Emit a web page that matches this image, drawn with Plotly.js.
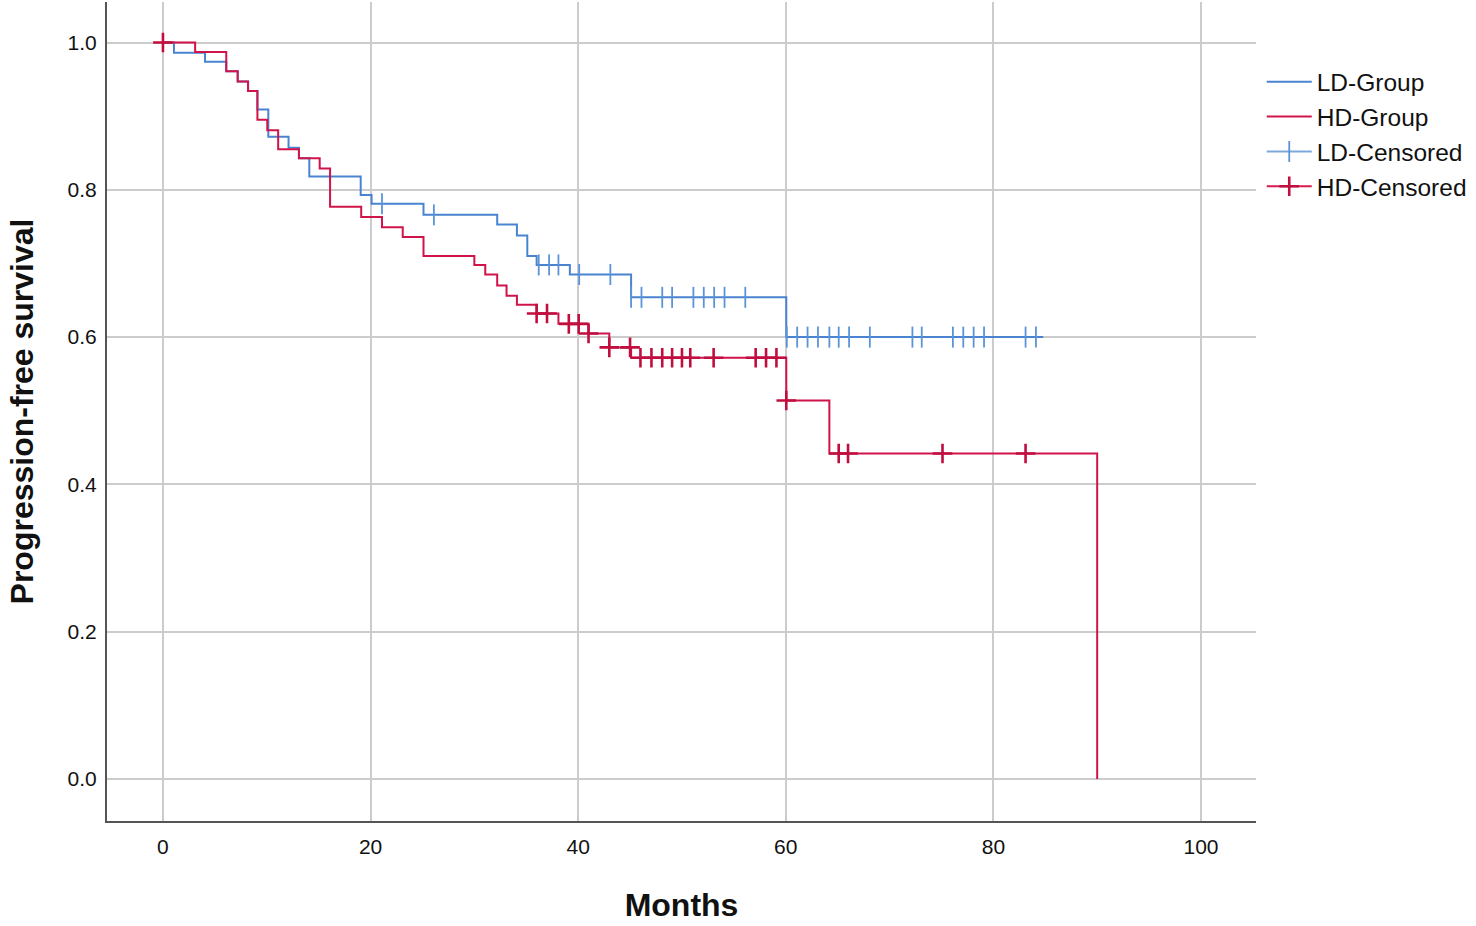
<!DOCTYPE html>
<html>
<head>
<meta charset="utf-8">
<script src="https://cdn.plot.ly/plotly-3.0.1.min.js"></script>
<style>
  html, body { margin: 0; padding: 0; background: #fff; }
  #km-chart { width: 1476px; height: 926px; }
</style>
</head>
<body>
<div id="km-chart"></div>
<script>
// step times (months) and survival after each step
const ldTimes = [0, 1.06, 4.05, 6.1, 7.2, 8.2, 9.1, 10.15, 12.1, 13.1, 14.1, 19.05, 20.1, 25.1, 32.2, 34.1, 35.1, 36.0, 39.2, 45.1, 60.05, 84.8];
const ldSurv  = [1.0, 0.986, 0.974, 0.961, 0.947, 0.934, 0.909, 0.872, 0.857, 0.843, 0.818, 0.793, 0.781, 0.766, 0.753, 0.738, 0.710, 0.698, 0.685, 0.654, 0.600, 0.600];

const hdTimes = [0, 3.1, 6.1, 7.2, 8.2, 9.1, 10.05, 11.1, 13.1, 15.1, 16.1, 19.1, 21.1, 23.1, 25.1, 30.0, 31.05, 32.2, 33.1, 34.1, 36.0, 38.1, 41.0, 43.0, 45.1, 60.05, 64.2, 90.0];
const hdSurv  = [1.0, 0.987, 0.961, 0.947, 0.934, 0.895, 0.881, 0.855, 0.843, 0.829, 0.777, 0.763, 0.749, 0.736, 0.710, 0.698, 0.685, 0.670, 0.656, 0.644, 0.632, 0.618, 0.605, 0.586, 0.572, 0.514, 0.442, 0.0];

// censoring times
const ldCensored = [21.1, 26.1, 36.2, 37.2, 38.1, 40.1, 43.1, 45.1, 46.1, 48.1, 49.05, 51.1, 52.1, 53.1, 54.1, 56.1,
  60.1, 61.1, 62.1, 63.1, 64.2, 65.1, 66.1, 68.1, 72.2, 73.1, 76.1, 77.1, 78.1, 79.1, 83.1, 84.1];
const hdCensored = [0, 36.0, 37.0, 39.1, 40.05, 41.0, 43.0, 45.0, 46.0, 47.06, 48.1, 49.05, 50.0, 50.8, 53.05,
  57.1, 58.1, 59.1, 60.05, 65.1, 66.0, 75.1, 83.1];

const xTicks = [0, 20, 40, 60, 80, 100];
const yTicks = [0, 0.2, 0.4, 0.6, 0.8, 1.0];

const LD_COLOR = "#4a84d0";
const HD_COLOR = "#d0144a";

// survival level at time t (last step at or before t)
const survAt = (times, surv, t) => {
  let s = surv[0];
  for (let i = 0; i < times.length; i++) {
    if (times[i] <= t + 1e-9) s = surv[i];
  }
  return s;
};

// separate points with nulls so no line is drawn, but legend still shows a line
const censorPoints = (cens, times, surv) => {
  const x = [], y = [];
  cens.forEach((t) => {
    x.push(t, null);
    y.push(survAt(times, surv, t), null);
  });
  return { x, y };
};

const ldC = censorPoints(ldCensored, ldTimes, ldSurv);
const hdC = censorPoints(hdCensored, hdTimes, hdSurv);

const traces = [
  {
    x: ldTimes, y: ldSurv, type: "scatter", mode: "lines",
    line: { shape: "hv", color: LD_COLOR, width: 2 },
    name: "LD-Group",
  },
  {
    x: hdTimes, y: hdSurv, type: "scatter", mode: "lines",
    line: { shape: "hv", color: HD_COLOR, width: 2 },
    name: "HD-Group",
  },
  {
    x: ldC.x, y: ldC.y, type: "scatter", mode: "lines+markers", connectgaps: false,
    line: { color: "#7fa9dc", width: 2 },
    marker: { symbol: "line-ns", size: 15, line: { color: "#5a93d8", width: 1.8 } },
    name: "LD-Censored",
  },
  {
    x: hdC.x, y: hdC.y, type: "scatter", mode: "lines+markers", connectgaps: false,
    line: { color: "#d81b4d", width: 2 },
    marker: { symbol: "cross-thin", size: 14, line: { color: "#c00f3e", width: 2.6 } },
    name: "HD-Censored",
  },
];

const layout = {
  width: 1476,
  height: 926,
  paper_bgcolor: "#fff",
  plot_bgcolor: "#fff",
  font: { family: "Arial, 'Liberation Sans', sans-serif", color: "#111" },
  margin: { l: 107, r: 220, t: 2, b: 105, autoexpand: false },
  showlegend: true,
  legend: {
    x: 1.005, xanchor: "left", y: 0.93, yanchor: "top",
    font: { size: 24.5, color: "#111" },
    itemwidth: 45,
    bgcolor: "rgba(0,0,0,0)",
  },
  xaxis: {
    range: [-5.39, 105.3],
    tickvals: xTicks,
    ticks: "",
    ticklabelstandoff: 6,
    tickfont: { size: 21 },
    showgrid: true, gridcolor: "#cccccc", gridwidth: 2,
    zeroline: false,
    showline: true, linecolor: "#555", linewidth: 2,
    title: { text: "<b>Months</b>", font: { size: 32 }, standoff: 36 },
    automargin: false,
  },
  yaxis: {
    range: [-0.057, 1.055],
    tickvals: yTicks,
    tickformat: ".1f",
    ticks: "",
    ticklabelstandoff: 4,
    tickfont: { size: 21 },
    showgrid: true, gridcolor: "#cccccc", gridwidth: 2,
    zeroline: false,
    showline: true, linecolor: "#555", linewidth: 2,
    title: { text: "<b>Progression-free survival</b>", font: { size: 32 }, standoff: 24 },
    automargin: false,
  },
};

Plotly.newPlot("km-chart", traces, layout, { displayModeBar: false, staticPlot: true });
</script>
</body>
</html>
